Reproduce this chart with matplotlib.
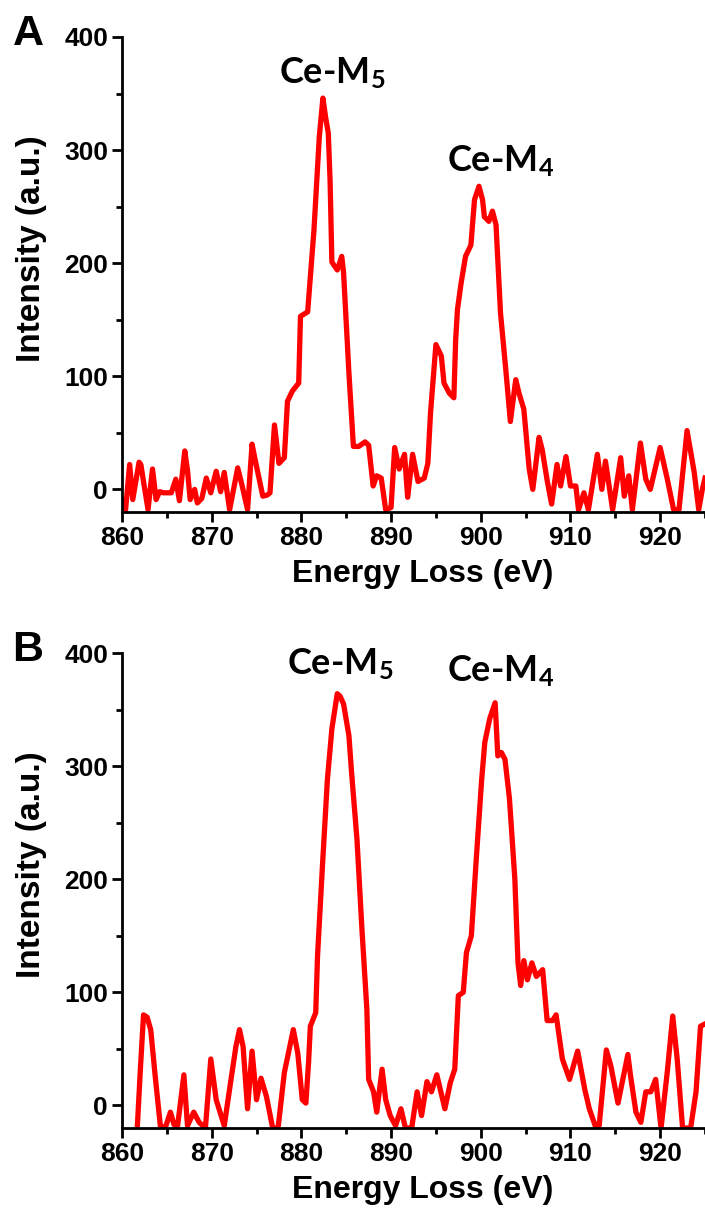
import matplotlib
matplotlib.use("Agg")
import matplotlib.pyplot as plt
from matplotlib.ticker import MultipleLocator

plt.rcParams['font.family'] = ['Liberation Sans', 'DejaVu Sans']
plt.rcParams['mathtext.fontset'] = 'custom'
plt.rcParams['mathtext.rm'] = 'Lato:bold'
plt.rcParams['mathtext.it'] = 'Lato:bold'
plt.rcParams['mathtext.bf'] = 'Lato:bold'

# ---- Panel A data ----
energy_a = [860.0, 860.4, 860.85, 861.2, 861.9, 862.1, 862.9, 863.4, 863.8, 864.2,
            864.6, 865.1, 865.5, 866.0, 866.4, 867.0, 867.3, 867.6, 868.1, 868.4,
            868.9, 869.4, 869.9, 870.5, 871.0, 871.4, 872.0, 872.9, 873.4, 874.0,
            874.5, 874.9, 875.7, 876.2, 876.5, 877.0, 877.5, 878.1, 878.45, 879.0,
            879.7, 879.9, 880.7, 881.4, 881.8, 882.0, 882.4, 882.7, 883.0, 883.2,
            883.4, 884.0, 884.5, 884.7, 885.3, 885.8, 886.4, 887.1, 887.5, 888.0,
            888.4, 888.9, 889.4, 890.0, 890.4, 890.9, 891.5, 891.85, 892.4, 893.0,
            893.7, 894.1, 894.4, 895.0, 895.6, 895.9, 896.5, 897.0, 897.2, 897.4,
            897.8, 898.3, 898.9, 899.3, 899.8, 900.2, 900.4, 900.9, 901.3, 901.7,
            902.2, 902.8, 903.3, 903.9, 904.3, 904.8, 905.4, 905.8, 906.5, 906.85,
            907.4, 907.9, 908.5, 908.9, 909.5, 910.0, 910.6, 910.9, 911.5, 912.0,
            913.0, 913.5, 913.9, 914.7, 915.6, 916.0, 916.5, 916.9, 917.8, 918.4,
            918.9, 920.0, 920.8, 921.5, 922.1, 923.0, 923.8, 924.3, 924.7, 925.0]
intensity_a = [-10, -18, 22, -9, 24, 22, -18, 18, -9, -2,
               -3, -3, -3, 9, -10, 34, 17, -9, 0, -12,
               -8, 10, -3, 16, -2, 15, -18, 19, 3, -18,
               40, 24, -6, -5, -3, 57, 23, 28, 78, 87,
               94, 153, 157, 229, 285, 312, 346, 329, 315, 273,
               201, 194, 206, 192, 103, 38, 38, 42, 39, 3,
               12, 10, -18, -16, 37, 18, 31, -7, 31, 7,
               10, 23, 68, 128, 118, 94, 85, 81, 132, 159,
               182, 206, 216, 256, 268, 256, 241, 237, 246, 234,
               156, 105, 60, 97, 84, 71, 18, 0, 46, 35,
               8, -13, 22, 3, 29, 3, 3, -18, -3, -18,
               31, 0, 25, -18, 28, -6, 12, -18, 41, 9,
               0, 37, 9, -18, -18, 52, 15, -18, 0, 10]

# ---- Panel B data ----
energy_b = [860.0, 861.5, 861.7, 862.05, 862.4, 862.8, 863.2, 863.7, 864.3, 864.9,
            865.4, 865.8, 866.2, 866.9, 867.3, 868.0, 868.6, 869.3, 869.9, 870.5,
            871.4, 872.1, 872.7, 873.1, 873.5, 874.0, 874.5, 875.0, 875.5, 876.1,
            876.8, 877.4, 878.1, 879.1, 879.6, 880.1, 880.5, 880.8, 881.0, 881.6,
            881.8, 882.35, 882.9, 883.4, 884.0, 884.3, 884.7, 885.3, 885.6, 886.2,
            886.75, 887.3, 887.5, 888.05, 888.4, 889.0, 889.4, 889.9, 890.5, 891.1,
            891.6, 892.3, 892.9, 893.4, 894.0, 894.5, 895.1, 896.0, 896.6, 897.1,
            897.5, 898.05, 898.4, 898.95, 899.5, 900.1, 900.45, 901.0, 901.6, 901.9,
            902.3, 902.7, 903.2, 903.8, 904.15, 904.45, 904.8, 905.2, 905.7, 906.2,
            906.9, 907.4, 908.0, 908.4, 909.1, 909.9, 910.8, 911.6, 912.1, 912.85,
            913.2, 914.0, 914.5, 915.3, 916.4, 916.7, 917.3, 917.85, 918.4, 918.96,
            919.5, 920.1, 920.8, 921.4, 921.9, 922.5, 923.4, 924.0, 924.5, 925.0]
intensity_b = [-40, -30, -20, 32, 80, 78, 67, 26, -20, -18,
               -6, -17, -18, 27, -18, -6, -15, -20, 41, 5,
               -18, 20, 52, 67, 52, -3, 48, 5, 24, 8,
               -20, -20, 29, 67, 46, 5, 2, 38, 70, 82,
               132, 212, 288, 333, 364, 362, 355, 327, 294, 235,
               156, 85, 23, 12, -6, 32, 5, -9, -18, -3,
               -20, -20, 12, -9, 21, 12, 27, -3, 20, 32,
               97, 100, 135, 150, 218, 288, 321, 342, 356, 309,
               312, 306, 271, 200, 126, 106, 128, 111, 126, 114,
               120, 75, 75, 80, 41, 23, 48, 14, -3, -20,
               -18, 49, 35, 2, 45, 26, -6, -15, 12, 12,
               23, -20, 30, 79, 41, -20, -20, 12, 70, 72]

xticks = [860, 870, 880, 890, 900, 910, 920]
yticks = [0, 100, 200, 300, 400]

W, H = 705, 1216
fig = plt.figure(figsize=(W / 100, H / 100), dpi=100)

def make_ax(top_px, energy, intensity, peaks, letter):
    bottom_px = top_px + 475
    ax = fig.add_axes([122 / W, 1 - bottom_px / H, (W - 122) / W, 475 / H])
    ax.plot(energy, intensity, color='#ff0000', lw=3.8, solid_joinstyle='round')
    ax.set_xlim(860, 925)
    ax.set_ylim(-20, 400)
    ax.set_xticks(xticks)
    ax.set_yticks(yticks)
    ax.xaxis.set_minor_locator(MultipleLocator(5))
    ax.yaxis.set_minor_locator(MultipleLocator(50))
    for s in ['top', 'right']:
        ax.spines[s].set_visible(False)
    for s in ['left', 'bottom']:
        ax.spines[s].set_linewidth(2)
    ax.tick_params(which='major', direction='out', length=7, width=2,
                   labelsize=19, pad=3)
    ax.tick_params(which='minor', direction='out', length=4, width=2)
    for lab in ax.get_xticklabels() + ax.get_yticklabels():
        lab.set_fontweight('bold')
    ax.set_xlabel('Energy Loss (eV)', fontsize=23, fontweight='bold')
    ax.xaxis.set_label_coords(0.515, -0.098)
    ax.set_ylabel('Intensity (a.u.)', fontsize=24, fontweight='bold')
    ax.yaxis.set_label_coords(-0.128, 0.555)
    for (tx, ty, txt) in peaks:
        ax.text(tx, ty, txt, fontsize=26, family='Lato', fontweight='bold',
                ha='center', va='center')
    fig.text(28 / W, 1 - (top_px - 3) / H, letter, fontsize=31,
             fontweight='bold', ha='center', va='center')
    return ax

make_ax(37, energy_a, intensity_a,
        [(883.4, 368, r'Ce-M$_{5}$'), (902.2, 290, r'Ce-M$_{4}$')], 'A')
make_ax(653, energy_b, intensity_b,
        [(884.3, 390, r'Ce-M$_{5}$'), (902.2, 384, r'Ce-M$_{4}$')], 'B')

fig.savefig('out.png', dpi=100)
